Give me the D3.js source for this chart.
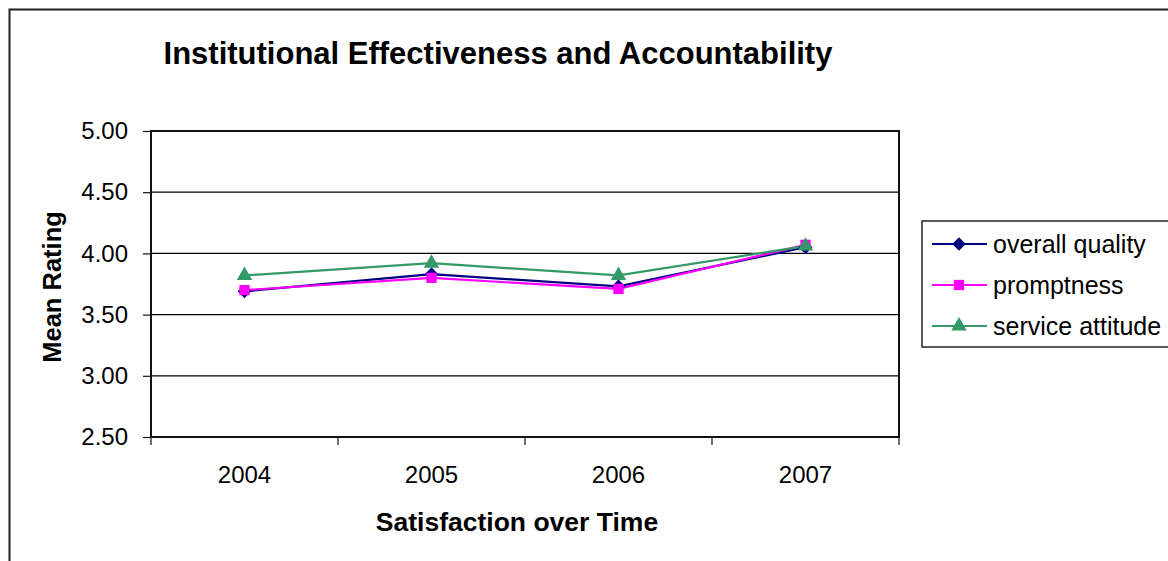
<!DOCTYPE html>
<html>
<head>
<meta charset="utf-8">
<script src="https://cdn.jsdelivr.net/npm/d3@7"></script>
<style>
  html, body { margin: 0; padding: 0; background: #fff; }
  svg { display: block; font-family: "Liberation Sans", Arial, sans-serif; }
</style>
</head>
<body>
<svg id="chart" width="1168" height="561"></svg>
<script>
// Survey years (categories)
const years = ["2004", "2005", "2006", "2007"];

// Mean ratings per series
const overallQuality = [3.69, 3.83, 3.73, 4.05];
const promptness = [3.70, 3.80, 3.71, 4.07];
const serviceAttitude = [3.82, 3.92, 3.82, 4.06];

const seriesNames = ["overall quality", "promptness", "service attitude"];
const yTicks = [2.5, 3.0, 3.5, 4.0, 4.5, 5.0];

const series = [
  { name: seriesNames[0], values: overallQuality, color: "#000080", symbol: d3.symbolDiamond2, size: 120 },
  { name: seriesNames[1], values: promptness, color: "#FF00FF", symbol: d3.symbolSquare2, size: 135 },
  { name: seriesNames[2], values: serviceAttitude, color: "#339966", symbol: d3.symbolTriangle2, size: 170 }
];

const svg = d3.select("#chart");

// Outer chart frame
svg.append("rect")
  .attr("x", 9.5).attr("y", 9.5)
  .attr("width", 1200).attr("height", 600)
  .attr("fill", "#fff")
  .attr("stroke", "#222").attr("stroke-width", 2);

const plot = { left: 151, top: 131, right: 899, bottom: 437 };

const x = d3.scaleBand().domain(years).range([plot.left, plot.right]);
const y = d3.scaleLinear().domain([2.5, 5.0]).range([plot.bottom, plot.top]);

// Horizontal gridlines
svg.append("g")
  .selectAll("line")
  .data(yTicks.slice(1, -1))
  .join("line")
  .attr("x1", plot.left).attr("x2", plot.right)
  .attr("y1", d => y(d)).attr("y2", d => y(d))
  .attr("stroke", "#000").attr("stroke-width", 1.2);

// Plot area border
svg.append("rect")
  .attr("x", plot.left).attr("y", plot.top)
  .attr("width", plot.right - plot.left).attr("height", plot.bottom - plot.top)
  .attr("fill", "none")
  .attr("stroke", "#111").attr("stroke-width", 2);

// Y axis
const yAxis = d3.axisLeft(y)
  .tickValues(yTicks)
  .tickFormat(d3.format(".2f"))
  .tickSize(8)
  .tickPadding(15);
const gy = svg.append("g").attr("transform", `translate(${plot.left},0)`).call(yAxis);
gy.select(".domain").remove();
gy.selectAll(".tick line").attr("stroke", "#111").attr("stroke-width", 1.2);
gy.selectAll(".tick text")
  .attr("font-size", 24)
  .attr("font-family", "Liberation Sans, Arial, sans-serif")
  .attr("fill", "#000");

// X axis: ticks at category boundaries, labels centred in each band
const gx = svg.append("g").attr("transform", `translate(0,${plot.bottom})`);
const boundaries = years.map(d => x(d)).concat([x(years[years.length - 1]) + x.bandwidth()]);
gx.selectAll("line")
  .data(boundaries)
  .join("line")
  .attr("x1", d => d).attr("x2", d => d)
  .attr("y1", 0).attr("y2", 8)
  .attr("stroke", "#111").attr("stroke-width", 1.2);
gx.selectAll("text")
  .data(years)
  .join("text")
  .attr("x", d => x(d) + x.bandwidth() / 2)
  .attr("y", 46)
  .attr("text-anchor", "middle")
  .attr("font-size", 24)
  .attr("fill", "#000")
  .text(d => d);

// Series lines and markers
const line = d3.line()
  .x((d, i) => x(years[i]) + x.bandwidth() / 2)
  .y(d => y(d));

series.forEach(s => {
  svg.append("path")
    .datum(s.values)
    .attr("d", line)
    .attr("fill", "none")
    .attr("stroke", s.color)
    .attr("stroke-width", 2.2);
});
series.forEach(s => {
  svg.append("g")
    .selectAll("path")
    .data(s.values)
    .join("path")
    .attr("transform", (d, i) => `translate(${x(years[i]) + x.bandwidth() / 2},${y(d)})`)
    .attr("d", d3.symbol(s.symbol, s.size))
    .attr("fill", s.color);
});

// Title
svg.append("text")
  .attr("x", 498).attr("y", 64)
  .attr("text-anchor", "middle")
  .attr("font-size", 31)
  .attr("font-weight", "bold")
  .attr("fill", "#000")
  .text("Institutional Effectiveness and Accountability");

// Axis titles
svg.append("text")
  .attr("x", 517).attr("y", 531)
  .attr("text-anchor", "middle")
  .attr("font-size", 26.5)
  .attr("font-weight", "bold")
  .attr("fill", "#000")
  .text("Satisfaction over Time");

svg.append("text")
  .attr("transform", "translate(61,287) rotate(-90)")
  .attr("text-anchor", "middle")
  .attr("font-size", 25.5)
  .attr("font-weight", "bold")
  .attr("fill", "#000")
  .text("Mean Rating");

// Legend
const legend = svg.append("g");
legend.append("rect")
  .attr("x", 922).attr("y", 221)
  .attr("width", 300).attr("height", 126)
  .attr("fill", "#fff")
  .attr("stroke", "#222").attr("stroke-width", 1.5);

const legendY = d3.scalePoint().domain(seriesNames).range([244, 326]);
series.forEach(s => {
  const ly = legendY(s.name);
  legend.append("line")
    .attr("x1", 932).attr("x2", 987)
    .attr("y1", ly).attr("y2", ly)
    .attr("stroke", s.color).attr("stroke-width", 2.2);
  legend.append("path")
    .attr("transform", `translate(959,${ly})`)
    .attr("d", d3.symbol(s.symbol, s.size))
    .attr("fill", s.color);
  legend.append("text")
    .attr("x", 993).attr("y", ly + 8.5)
    .attr("font-size", 25)
    .attr("fill", "#000")
    .text(s.name);
});
</script>
</body>
</html>
